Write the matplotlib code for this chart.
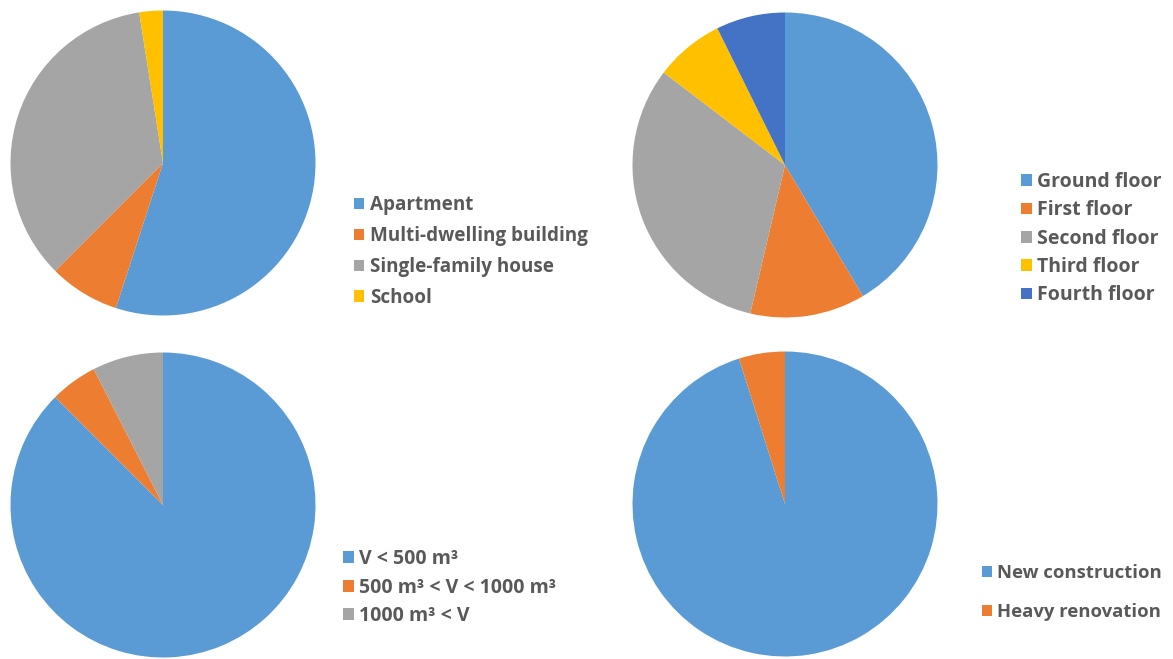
import matplotlib.pyplot as plt

W, H = 1173, 659
plt.rcParams['font.family'] = ['Open Sans', 'DejaVu Sans']

# building type (number of cases)
type_labels = ["Apartment", "Multi-dwelling building", "Single-family house", "School"]
type_counts = [22, 3, 14, 1]

# floor of the room
floor_labels = ["Ground floor", "First floor", "Second floor", "Third floor", "Fourth floor"]
floor_counts = [17, 5, 13, 3, 3]

# room volume
volume_labels = ["V < 500 m³", "500 m³ < V < 1000 m³", "1000 m³ < V"]
volume_counts = [35, 2, 3]

# construction type
build_labels = ["New construction", "Heavy renovation"]
build_counts = [39, 2]

colors = ["#5B9BD5", "#ED7D31", "#A5A5A5", "#FFC000", "#4472C4"]
text_color = "#595959"

fig = plt.figure(figsize=(W / 100, H / 100), dpi=100)
fig.patch.set_facecolor("white")

R = 152.5


def draw_pie(cx, cy, values, labels, leg_x, leg_y, size, spacing):
    ax = fig.add_axes([(cx - R) / W, (H - cy - R) / H, 2 * R / W, 2 * R / H])
    wedges, _ = ax.pie(values, colors=colors[:len(values)], startangle=90,
                       counterclock=False, radius=1)
    ax.set_xlim(-1, 1)
    ax.set_ylim(-1, 1)
    ax.set_aspect("equal")
    ax.axis("off")
    leg = fig.legend(wedges, labels, loc="upper left",
                     bbox_to_anchor=(leg_x / W, 1 - leg_y / H),
                     bbox_transform=fig.transFigure, frameon=False,
                     borderpad=0, borderaxespad=0,
                     handlelength=0.55, handleheight=0.55, handletextpad=0.28,
                     labelspacing=spacing,
                     prop={"size": size, "weight": "bold"})
    for t in leg.get_texts():
        t.set_color(text_color)


draw_pie(163, 163, type_counts, type_labels, 354, 195, 13.6, 0.58)
draw_pie(785, 165, floor_counts, floor_labels, 1021, 172, 14, 0.43)
draw_pie(163, 505, volume_counts, volume_labels, 343, 549, 14, 0.44)
draw_pie(785, 504, build_counts, build_labels, 982, 564, 13.3, 1.12)

fig.savefig("out.png", dpi=100, facecolor="white")
